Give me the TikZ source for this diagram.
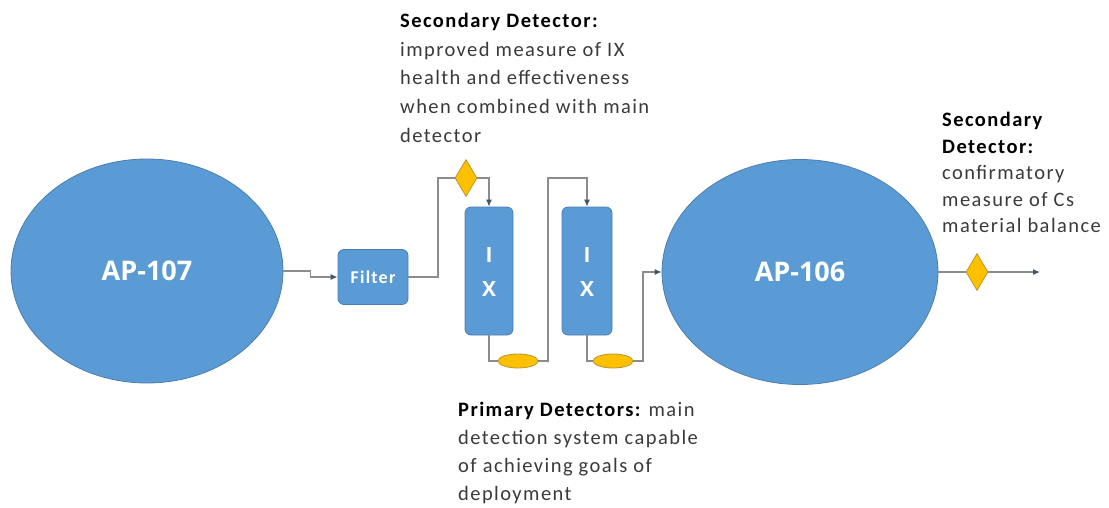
\documentclass[tikz,border=0pt]{standalone}
\usepackage{fontspec}
\setmainfont{Carlito}
\newfontfamily\notefont{Carlito}[LetterSpace=7]
\newfontfamily\labfont{Open Sans}
\usetikzlibrary{shapes.geometric,arrows.meta}
\definecolor{nodeblue}{HTML}{5B9BD5}
\definecolor{nodeedge}{HTML}{4A7EB0}
\definecolor{detyel}{HTML}{FFC000}
\definecolor{detedge}{HTML}{B8962A}
\definecolor{wire}{HTML}{8C8C8C}
\definecolor{tipcol}{HTML}{44546A}
\definecolor{bodytext}{HTML}{3A3A3A}
\tikzset{
  tank/.style={ellipse, draw=nodeedge, line width=0.8pt, fill=nodeblue, inner sep=0pt, text=white, font=\labfont\bfseries\fontsize{27}{30}\selectfont},
  boxnode/.style={rectangle, rounded corners=6pt, draw=nodeedge, line width=0.8pt, fill=nodeblue, inner sep=0pt, text=white},
  ixlabel/.style={text=white, inner sep=0pt, font=\labfont\bfseries\fontsize{21}{24}\selectfont},
  sdet/.style={diamond, draw=detedge, line width=0.8pt, fill=detyel, inner sep=0pt, minimum width=22pt, minimum height=37pt},
  pdet/.style={ellipse, draw=detedge, line width=0.8pt, fill=detyel, inner sep=0pt, minimum width=40pt, minimum height=14pt},
  wireline/.style={draw=wire, line width=1.1pt},
  flow/.style={wireline, -{Latex[length=7pt,width=6pt,color=tipcol]}},
  note/.style={anchor=north west, inner sep=0pt, align=left, text=bodytext},
}
\begin{document}
\begin{tikzpicture}[x=1pt,y=-1pt]
\useasboundingbox (0,0) rectangle (1109,507);
% tanks
\node[tank, minimum width=272pt, minimum height=224pt] (ap107) at (147,271) {AP-107};
\node[tank, minimum width=276pt, minimum height=225pt] (ap106) at (800,272) {AP-106};
% filter and IX columns
\node[boxnode, minimum width=70pt, minimum height=55pt, font=\notefont\bfseries\fontsize{18}{20}\selectfont] (filter) at (373,277) {Filter};
\node[boxnode, minimum width=48pt, minimum height=128pt] (ix1) at (489,271) {};
\node[boxnode, minimum width=50pt, minimum height=128pt] (ix2) at (587,271) {};
\node[ixlabel] (ix1i) at (489,255) {I};
\node[ixlabel] (ix1x) at (489,289) {X};
\node[ixlabel] (ix2i) at (587,255) {I};
\node[ixlabel] (ix2x) at (587,289) {X};
% detectors
\node[sdet] (d1) at (466,178) {};
\node[sdet] (d2) at (977,272) {};
\node[pdet] (p1) at (518,361) {};
\node[pdet] (p2) at (613,361) {};
% junctions
\coordinate (j1) at (438,178);
\coordinate (j2) at (548,178);
\coordinate (j3) at (643,272);
\coordinate (outend) at (1040,272);
% connectors
\draw[flow] (ap107.east) -- ++(27,0) |- (filter.west);
\draw[wireline] (filter.east) -| (j1) -- (d1.west);
\draw[flow] (d1.east) -| (ix1.north);
\draw[wireline] (ix1.south) |- (p1.west);
\draw[flow] (p1.east) -| (j2) -| (ix2.north);
\draw[wireline] (ix2.south) |- (p2.west);
\draw[flow] (p2.east) -| (j3) -- (ap106.west);
\draw[wireline] (ap106.east) -- (d2.west);
\draw[flow] (d2.east) -- (outend);
% notes
\node[note, font=\notefont\fontsize{20.5}{28.7}\selectfont] (n1) at (400,13) {\textbf{\color{black}Secondary Detector:}\\improved measure of IX\\health and effectiveness\\when combined with main\\detector};
\node[note, font=\notefont\fontsize{20.5}{26.5}\selectfont] (n2) at (942,112) {\textbf{\color{black}Secondary}\\\textbf{\color{black}Detector:}\\confirmatory\\measure of Cs\\material balance};
\node[note, font=\notefont\fontsize{20.5}{28}\selectfont] (n3) at (458,402) {\textbf{\color{black}Primary Detectors:} main\\detection system capable\\of achieving goals of\\deployment};
\end{tikzpicture}
\end{document}
